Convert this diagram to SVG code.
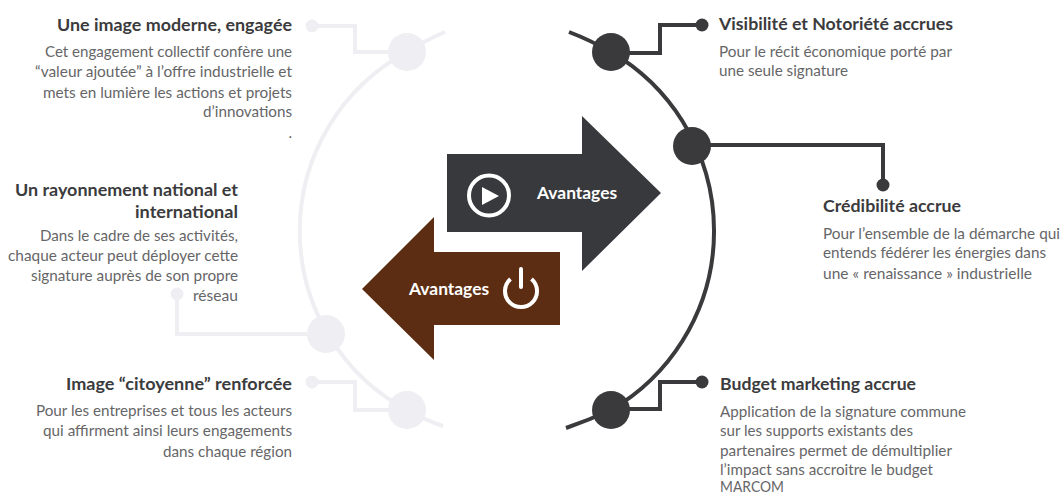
<svg xmlns="http://www.w3.org/2000/svg" width="1062" height="495" viewBox="0 0 1062 495">
<style>
text{font-family:"Lato","Open Sans",sans-serif}
.t{font-size:17.9px;font-weight:700;fill:#3b3b3d}
.b{font-size:15px;fill:#666668}
.r{text-anchor:end}
.a{font-size:17.4px;font-weight:700;fill:#fff}
.lg{fill:none;stroke:#eeeef3;stroke-width:4}
.dk{fill:none;stroke:#3a3a3d;stroke-width:4}
.gn{fill:#eeeef3}
.dn{fill:#3a3a3d}
</style>
<rect width="1062" height="495" fill="#fff"/>
<g id="connectors">
<path class="lg" d="M445 32Q426 40 407 52A203 203 0 0 0 407 410Q425 420 443 426"/>
<path class="lg" d="M312 26H355V52H407"/>
<path class="lg" d="M177 294V334H326"/>
<path class="lg" d="M312 382H355V410H407"/>
<path class="dk" d="M569 32Q590 40 611 52A207 207 0 0 1 611 410Q589 420 566 428"/>
<path class="dk" d="M611 53H660V25H702"/>
<path class="dk" d="M692 145H883V185"/>
<path class="dk" d="M611 409H660V382H702"/>
</g>
<g id="node-image-moderne">
<circle class="gn" cx="407" cy="52" r="19"/><circle class="gn" cx="312" cy="26" r="6.5"/>
<text class="t r" x="292" y="31" textLength="235" lengthAdjust="spacingAndGlyphs">Une image moderne, engagée</text>
<text class="b r" x="292" y="57" textLength="247" lengthAdjust="spacingAndGlyphs">Cet engagement collectif confère une</text>
<text class="b r" x="292" y="77" textLength="257" lengthAdjust="spacingAndGlyphs">“valeur ajoutée” à l’offre industrielle et</text>
<text class="b r" x="292" y="98" textLength="249" lengthAdjust="spacingAndGlyphs">mets en lumière les actions et projets</text>
<text class="b r" x="292" y="117" textLength="89" lengthAdjust="spacingAndGlyphs">d’innovations</text>
<text class="b r" x="292" y="138">.</text>
</g>
<g id="node-rayonnement">
<circle class="gn" cx="326" cy="334" r="19"/><circle class="gn" cx="177" cy="294" r="6.5"/>
<text class="t r" x="238" y="196" textLength="223" lengthAdjust="spacingAndGlyphs">Un rayonnement national et</text>
<text class="t r" x="238" y="218" textLength="103" lengthAdjust="spacingAndGlyphs">international</text>
<text class="b r" x="238" y="241" textLength="198" lengthAdjust="spacingAndGlyphs">Dans le cadre de ses activités,</text>
<text class="b r" x="238" y="261" textLength="230" lengthAdjust="spacingAndGlyphs">chaque acteur peut déployer cette</text>
<text class="b r" x="238" y="281" textLength="207" lengthAdjust="spacingAndGlyphs">signature auprès de son propre</text>
<text class="b r" x="238" y="301" textLength="45" lengthAdjust="spacingAndGlyphs">réseau</text>
</g>
<g id="node-citoyenne">
<circle class="gn" cx="407" cy="410" r="19"/><circle class="gn" cx="312" cy="382" r="6.5"/>
<text class="t r" x="292" y="390" textLength="226" lengthAdjust="spacingAndGlyphs">Image “citoyenne” renforcée</text>
<text class="b r" x="292" y="416" textLength="256" lengthAdjust="spacingAndGlyphs">Pour les entreprises et tous les acteurs</text>
<text class="b r" x="292" y="436" textLength="249" lengthAdjust="spacingAndGlyphs">qui affirment ainsi leurs engagements</text>
<text class="b r" x="292" y="457" textLength="129" lengthAdjust="spacingAndGlyphs">dans chaque région</text>
</g>
<g id="node-visibilite">
<circle class="dn" cx="611" cy="52" r="19"/><circle class="dn" cx="702" cy="25" r="6.5"/>
<text class="t" x="719" y="30" textLength="234" lengthAdjust="spacingAndGlyphs">Visibilité et Notoriété accrues</text>
<text class="b" x="719" y="57" textLength="233" lengthAdjust="spacingAndGlyphs">Pour le récit économique porté par</text>
<text class="b" x="719" y="76" textLength="129" lengthAdjust="spacingAndGlyphs">une seule signature</text>
</g>
<g id="node-credibilite">
<circle class="dn" cx="692" cy="146" r="19"/><circle class="dn" cx="883" cy="185" r="6.5"/>
<text class="t" x="823" y="212" textLength="138" lengthAdjust="spacingAndGlyphs">Crédibilité accrue</text>
<text class="b" x="823" y="239" textLength="237" lengthAdjust="spacingAndGlyphs">Pour l’ensemble de la démarche qui</text>
<text class="b" x="823" y="258" textLength="223" lengthAdjust="spacingAndGlyphs">entends fédérer les énergies dans</text>
<text class="b" x="823" y="279" textLength="209" lengthAdjust="spacingAndGlyphs">une « renaissance » industrielle</text>
</g>
<g id="node-budget">
<circle class="dn" cx="611" cy="410" r="19"/><circle class="dn" cx="702" cy="382" r="6.5"/>
<text class="t" x="720" y="390" textLength="196" lengthAdjust="spacingAndGlyphs">Budget marketing accrue</text>
<text class="b" x="720" y="417" textLength="246" lengthAdjust="spacingAndGlyphs">Application de la signature commune</text>
<text class="b" x="720" y="436" textLength="193" lengthAdjust="spacingAndGlyphs">sur les supports existants des</text>
<text class="b" x="720" y="456" textLength="232" lengthAdjust="spacingAndGlyphs">partenaires permet de démultiplier</text>
<text class="b" x="720" y="475" textLength="213" lengthAdjust="spacingAndGlyphs">l’impact sans accroitre le budget</text>
<text class="b" x="720" y="492" textLength="64" lengthAdjust="spacingAndGlyphs">MARCOM</text>
</g>
<g id="node-arrow-right">
<polygon fill="#38393d" points="447,154 582,154 582,116 661,193 582,271 582,232 447,232"/>
<circle cx="489" cy="195.500" r="20" fill="none" stroke="#fff" stroke-width="4"/>
<polygon fill="#fff" points="482,187 482,205 499,196"/>
<text class="a" x="537" y="199">Avantages</text>
</g>
<g id="node-arrow-left">
<polygon fill="#5c2d12" points="560,252 434,252 434,217 362,289 434,360 434,325 560,325"/>
<text class="a" x="409" y="295">Avantages</text>
<path fill="none" stroke="#fff" stroke-width="4" d="M510.5 279A16 16 0 1 0 531.500 279"/>
<path fill="none" stroke="#fff" stroke-width="4" stroke-linecap="round" d="M521 269V287"/>
</g>
</svg>
